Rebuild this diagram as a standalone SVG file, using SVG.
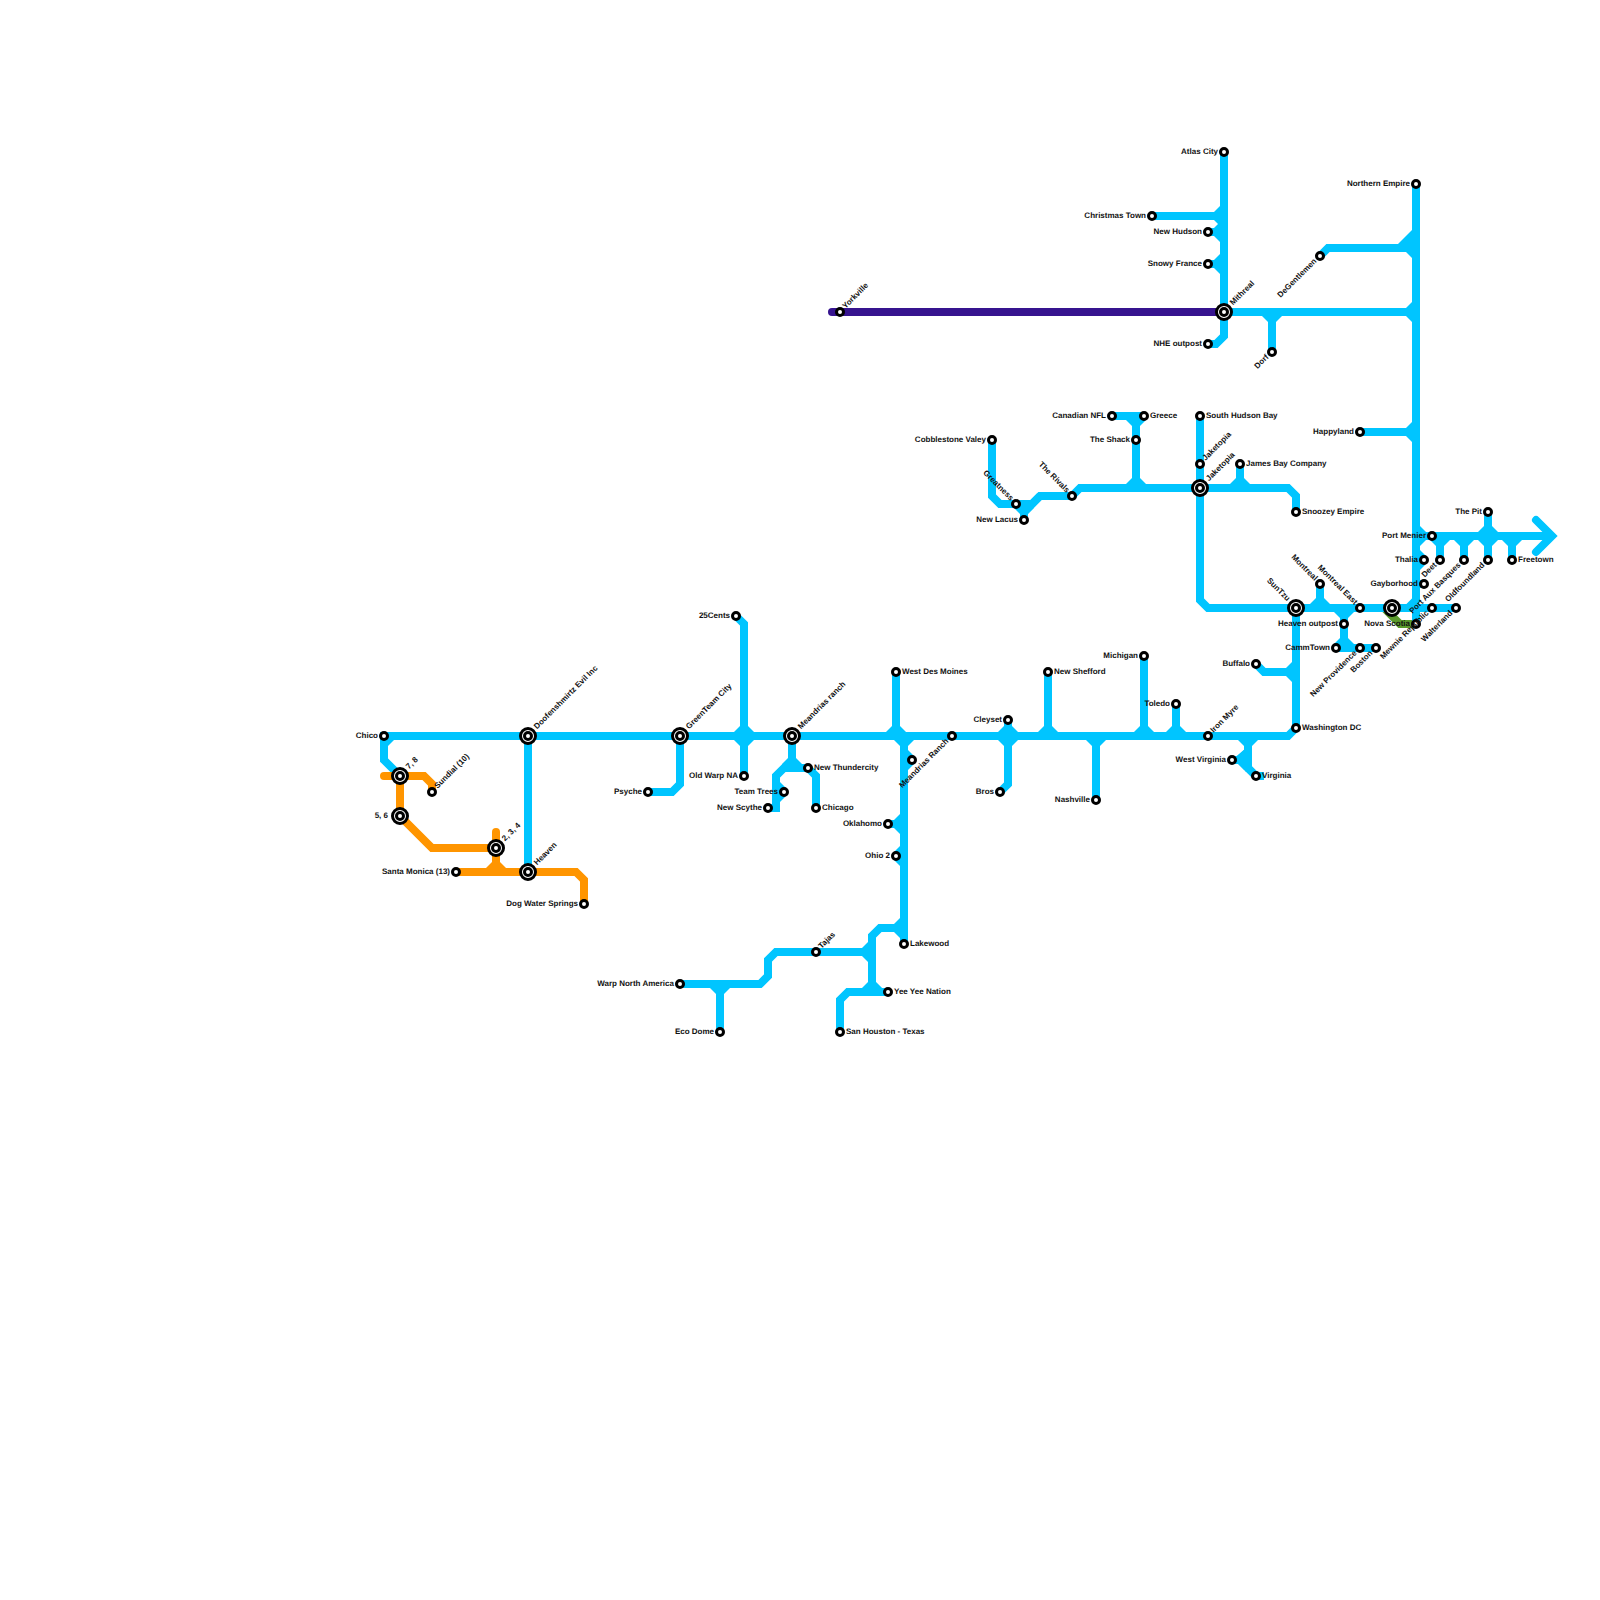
<svg xmlns="http://www.w3.org/2000/svg" width="1600" height="1600" viewBox="0 0 1600 1600">
<style>
.c path{fill:none;stroke-width:8;stroke-linejoin:miter}
.b path{stroke:#00c5ff}
.o path{stroke:#ff9500}
.p path{stroke:#36148f}
.g path{stroke:#5b9a2c}
.rc{stroke-linecap:round}
.b use,.b polygon{fill:#00c5ff}
.o use{fill:#ff9500}
.s{fill:#fff;stroke:#000;stroke-width:3}
text{font-family:"Liberation Sans",Arial,sans-serif;font-size:8px;font-weight:700;fill:#111;text-rendering:geometricPrecision}
.e{text-anchor:end}
</style>
<defs>
<polygon id="j" points="-10,-4 -4,-10 4,-10 10,-4 10,0 -10,0"/>
<circle id="st" class="s" r="3.5"/>
<g id="bg"><circle class="s" r="7.5"/><circle class="s" r="3.5"/></g>
</defs>
<g id="connectors" class="c">
<g class="g"><path d="M1384 608L1400 624H1416"/></g>
<g class="b">
<path d="M400 776L384 760V736H1288L1296 728"/>
<path d="M528 736V872"/>
<path d="M680 736V784L672 792H648"/>
<path d="M736 616L744 624V776"/>
<path d="M792 736V768"/>
<path d="M808 768H784L776 776V808H768"/>
<path d="M776 792H784"/>
<path d="M808 768L816 776V808"/>
<path d="M896 672V736"/>
<path d="M904 736V944"/>
<path d="M904 760H912M904 824H888M904 856H896"/>
<path d="M904 928H880L872 936V984L880 992H888"/>
<path d="M888 992H848L840 1000V1032"/>
<path d="M872 952H776L768 960V976L760 984H680"/>
<path d="M720 984V1032"/>
<path d="M1008 720V784L1000 792"/>
<path d="M1048 672V736M1096 736V800M1144 656V736M1176 704V736"/>
<path d="M1248 736V768L1256 776H1264"/>
<path d="M1232 760H1240L1256 776"/>
<path d="M1232 760H1248"/>
<path d="M1256 664L1264 672H1296"/>
<path d="M1296 608V728"/>
<path d="M1112 416H1144M1136 416V488"/>
<path d="M992 440V496L1000 504H1032L1040 496H1072L1080 488H1288L1296 496V512"/>
<path d="M1040 496L1024 512V520"/>
<path d="M1200 416V600L1208 608H1456"/>
<path d="M1240 464V488"/>
<path d="M1320 584V608M1344 608V648M1336 648H1376"/>
<path d="M1416 184V600L1408 608"/>
<path d="M1416 608V624"/>
<path d="M1416 536H1552M1416 584H1424M1416 560H1424"/>
<path d="M1536 520L1552 536L1536 552" class="rc"/>
<path d="M1440 536V560M1464 536V560M1488 512V560M1512 536V560"/>
<path d="M1224 152V336L1216 344H1208"/>
<path d="M1152 216H1224M1208 232H1224M1208 264H1224"/>
<path d="M1224 312H1416M1272 312V352"/>
<path d="M1320 256L1328 248H1416"/>
<path d="M1360 432H1416"/>
<polygon points="388,740 394,740 388,746"/>
<polygon points="1398,244 1412,230 1412,250"/>
<polygon points="1232,760 1246,748 1246,772 1240,764"/>
<use href="#j" transform="translate(744 736)"/><use href="#j" transform="translate(744 736) rotate(180)"/>
<use href="#j" transform="translate(896 736)"/><use href="#j" transform="translate(904 736) rotate(180)"/>
<use href="#j" transform="translate(1008 736)"/><use href="#j" transform="translate(1008 736) rotate(180)"/>
<use href="#j" transform="translate(1048 736)"/><use href="#j" transform="translate(1096 736) rotate(180)"/>
<use href="#j" transform="translate(1144 736)"/><use href="#j" transform="translate(1176 736)"/>
<use href="#j" transform="translate(1248 736) rotate(180)"/>
<use href="#j" transform="translate(1136 488)"/><use href="#j" transform="translate(1240 488)"/>
<use href="#j" transform="translate(1136 416) rotate(180)"/>
<use href="#j" transform="translate(1296 672) rotate(270)"/>
<use href="#j" transform="translate(1224 216) rotate(270)"/><use href="#j" transform="translate(1224 232) rotate(270)"/><use href="#j" transform="translate(1224 264) rotate(270)"/>
<use href="#j" transform="translate(1272 312) rotate(180)"/>
<use href="#j" transform="translate(1416 312) rotate(270)"/><use href="#j" transform="translate(1416 248) rotate(270)"/><use href="#j" transform="translate(1416 432) rotate(270)"/>
<use href="#j" transform="translate(720 984) rotate(180)"/>
<use href="#j" transform="translate(872 952) rotate(270)"/><use href="#j" transform="translate(904 928) rotate(270)"/><use href="#j" transform="translate(872 992)"/>
<use href="#j" transform="translate(904 760) rotate(90)"/><use href="#j" transform="translate(904 824) rotate(270)"/><use href="#j" transform="translate(904 856) rotate(270)"/>
<use href="#j" transform="translate(776 792) rotate(90)"/><use href="#j" transform="translate(792 768)"/>
<use href="#j" transform="translate(1248 760) rotate(270)"/>
<use href="#j" transform="translate(1024 504) rotate(180)"/>
<use href="#j" transform="translate(1320 608)"/>
<use href="#j" transform="translate(1344 608) rotate(180)"/><use href="#j" transform="translate(1344 648)"/>
<use href="#j" transform="translate(1416 536) rotate(90)"/><use href="#j" transform="translate(1416 560) rotate(90)"/>
<use href="#j" transform="translate(1440 536) rotate(180)"/><use href="#j" transform="translate(1464 536) rotate(180)"/>
<use href="#j" transform="translate(1488 536)"/><use href="#j" transform="translate(1488 536) rotate(180)"/>
<use href="#j" transform="translate(1512 536) rotate(180)"/>
</g>
<g class="p"><path class="rc" d="M832 312H1224"/></g>
<g class="o">
<path class="rc" d="M384 776H424L432 784V792"/>
<path d="M400 776V816L432 848H496"/>
<path class="rc" d="M496 832V872"/>
<path d="M456 872H576L584 880V904"/>
<use href="#j" transform="translate(496 872)"/>
</g>
</g>
<g id="nodes">
<g id="chico"><use href="#st" x="384" y="736"/><text class="e" x="378" y="737.8">Chico</text></g>
<g id="n78"><use href="#bg" x="400" y="776"/><text transform="translate(400 776) rotate(-45)" x="11" y="1.8">7, 8</text></g>
<g id="n56"><use href="#bg" x="400" y="816"/><text class="e" x="388" y="817.8">5, 6</text></g>
<g id="sundial"><use href="#st" x="432" y="792"/><text transform="translate(432 792) rotate(-45)" x="6" y="1.8">Sundial (10)</text></g>
<g id="n234"><use href="#bg" x="496" y="848"/><text transform="translate(496 848) rotate(-45)" x="11" y="1.8">2, 3, 4</text></g>
<g id="heaven"><use href="#bg" x="528" y="872"/><text transform="translate(528 872) rotate(-45)" x="11" y="1.8">Heaven</text></g>
<g id="santa-monica"><use href="#st" x="456" y="872"/><text class="e" x="450" y="873.8">Santa Monica (13)</text></g>
<g id="dog-water"><use href="#st" x="584" y="904"/><text class="e" x="578" y="905.8">Dog Water Springs</text></g>
<g id="doofenshmirtz"><use href="#bg" x="528" y="736"/><text transform="translate(528 736) rotate(-45)" x="11" y="1.8">Doofenshmirtz Evil Inc</text></g>
<g id="greenteam"><use href="#bg" x="680" y="736"/><text transform="translate(680 736) rotate(-45)" x="11" y="1.8">GreenTeam City</text></g>
<g id="psyche"><use href="#st" x="648" y="792"/><text class="e" x="642" y="793.8">Psyche</text></g>
<g id="cents"><use href="#st" x="736" y="616"/><text class="e" x="730" y="617.8">25Cents</text></g>
<g id="old-warp"><use href="#st" x="744" y="776"/><text class="e" x="738" y="777.8">Old Warp NA</text></g>
<g id="meandrias-r"><use href="#bg" x="792" y="736"/><text transform="translate(792 736) rotate(-45)" x="11" y="1.8">Meandrias ranch</text></g>
<g id="new-thundercity"><use href="#st" x="808" y="768"/><text x="814" y="769.8">New Thundercity</text></g>
<g id="team-trees"><use href="#st" x="784" y="792"/><text class="e" x="778" y="793.8">Team Trees</text></g>
<g id="new-scythe"><use href="#st" x="768" y="808"/><text class="e" x="762" y="809.8">New Scythe</text></g>
<g id="chicago"><use href="#st" x="816" y="808"/><text x="822" y="809.8">Chicago</text></g>
<g id="west-des-moines"><use href="#st" x="896" y="672"/><text x="902" y="673.8">West Des Moines</text></g>
<g id="meandrias-ranch"><use href="#st" x="952" y="736"/><text class="e" transform="translate(952 736) rotate(-45)" x="-6" y="1.8">Meandrias Ranch</text></g>
<g id="unnamed"><use href="#st" x="912" y="760"/></g>
<g id="oklahomo"><use href="#st" x="888" y="824"/><text class="e" x="882" y="825.8">Oklahomo</text></g>
<g id="ohio2"><use href="#st" x="896" y="856"/><text class="e" x="890" y="857.8">Ohio 2</text></g>
<g id="lakewood"><use href="#st" x="904" y="944"/><text x="910" y="945.8">Lakewood</text></g>
<g id="yee-yee"><use href="#st" x="888" y="992"/><text x="894" y="993.8">Yee Yee Nation</text></g>
<g id="san-houston"><use href="#st" x="840" y="1032"/><text x="846" y="1033.8">San Houston - Texas</text></g>
<g id="tajas"><use href="#st" x="816" y="952"/><text transform="translate(816 952) rotate(-45)" x="6" y="1.8">Tajas</text></g>
<g id="warp-north"><use href="#st" x="680" y="984"/><text class="e" x="674" y="985.8">Warp North America</text></g>
<g id="eco-dome"><use href="#st" x="720" y="1032"/><text class="e" x="714" y="1033.8">Eco Dome</text></g>
<g id="cleyset"><use href="#st" x="1008" y="720"/><text class="e" x="1002" y="721.8">Cleyset</text></g>
<g id="bros"><use href="#st" x="1000" y="792"/><text class="e" x="994" y="793.8">Bros</text></g>
<g id="new-shefford"><use href="#st" x="1048" y="672"/><text x="1054" y="673.8">New Shefford</text></g>
<g id="nashville"><use href="#st" x="1096" y="800"/><text class="e" x="1090" y="801.8">Nashville</text></g>
<g id="michigan"><use href="#st" x="1144" y="656"/><text class="e" x="1138" y="657.8">Michigan</text></g>
<g id="toledo"><use href="#st" x="1176" y="704"/><text class="e" x="1170" y="705.8">Toledo</text></g>
<g id="iron-myre"><use href="#st" x="1208" y="736"/><text transform="translate(1208 736) rotate(-45)" x="6" y="1.8">Iron Myre</text></g>
<g id="west-virginia"><use href="#st" x="1232" y="760"/><text class="e" x="1226" y="761.8">West Virginia</text></g>
<g id="virginia"><use href="#st" x="1256" y="776"/><text x="1262" y="777.8">Virginia</text></g>
<g id="washington"><use href="#st" x="1296" y="728"/><text x="1302" y="729.8">Washington DC</text></g>
<g id="buffalo"><use href="#st" x="1256" y="664"/><text class="e" x="1250" y="665.8">Buffalo</text></g>
<g id="cobblestone"><use href="#st" x="992" y="440"/><text class="e" x="986" y="441.8">Cobblestone Valey</text></g>
<g id="greatness"><use href="#st" x="1016" y="504"/><text class="e" transform="translate(1016 504) rotate(45)" x="-6" y="1.8">Greatness</text></g>
<g id="new-lacus"><use href="#st" x="1024" y="520"/><text class="e" x="1018" y="521.8">New Lacus</text></g>
<g id="rivals"><use href="#st" x="1072" y="496"/><text class="e" transform="translate(1072 496) rotate(45)" x="-6" y="1.8">The Rivals</text></g>
<g id="canadian-nfl"><use href="#st" x="1112" y="416"/><text class="e" x="1106" y="417.8">Canadian NFL</text></g>
<g id="greece"><use href="#st" x="1144" y="416"/><text x="1150" y="417.8">Greece</text></g>
<g id="shack"><use href="#st" x="1136" y="440"/><text class="e" x="1130" y="441.8">The Shack</text></g>
<g id="south-hudson"><use href="#st" x="1200" y="416"/><text x="1206" y="417.8">South Hudson Bay</text></g>
<g id="jaketopia-s"><use href="#st" x="1200" y="464"/><text transform="translate(1200 464) rotate(-45)" x="6" y="1.8">Jaketopia</text></g>
<g id="jaketopia"><use href="#bg" x="1200" y="488"/><text transform="translate(1200 488) rotate(-45)" x="11" y="1.8">Jaketopia</text></g>
<g id="james-bay"><use href="#st" x="1240" y="464"/><text x="1246" y="465.8">James Bay Company</text></g>
<g id="snoozey"><use href="#st" x="1296" y="512"/><text x="1302" y="513.8">Snoozey Empire</text></g>
<g id="suntzu"><use href="#bg" x="1296" y="608"/><text class="e" transform="translate(1296 608) rotate(45)" x="-11" y="1.8">SunTzu</text></g>
<g id="montreal"><use href="#st" x="1320" y="584"/><text class="e" transform="translate(1320 584) rotate(45)" x="-6" y="1.8">Montreal</text></g>
<g id="montreal-east"><use href="#st" x="1360" y="608"/><text class="e" transform="translate(1360 608) rotate(45)" x="-6" y="1.8">Montreal East</text></g>
<g id="heaven-outpost"><use href="#st" x="1344" y="624"/><text class="e" x="1338" y="625.8">Heaven outpost</text></g>
<g id="cammtown"><use href="#st" x="1336" y="648"/><text class="e" x="1330" y="649.8">CammTown</text></g>
<g id="new-providence"><use href="#st" x="1360" y="648"/><text class="e" transform="translate(1360 648) rotate(-45)" x="-6" y="1.8">New Providence</text></g>
<g id="boston"><use href="#st" x="1376" y="648"/><text class="e" transform="translate(1376 648) rotate(-45)" x="-6" y="1.8">Boston</text></g>
<g id="big-1392"><use href="#bg" x="1392" y="608"/></g>
<g id="nova-scotia"><use href="#st" x="1416" y="624"/><text class="e" x="1410" y="625.8">Nova Scotia</text></g>
<g id="mewnie"><use href="#st" x="1432" y="608"/><text class="e" transform="translate(1432 608) rotate(-45)" x="-6" y="1.8">Mewnie Republic</text></g>
<g id="walterland"><use href="#st" x="1456" y="608"/><text class="e" transform="translate(1456 608) rotate(-45)" x="-6" y="1.8">Walterland</text></g>
<g id="gayborhood"><use href="#st" x="1424" y="584"/><text class="e" x="1418" y="585.8">Gayborhood</text></g>
<g id="thalia"><use href="#st" x="1424" y="560"/><text class="e" x="1418" y="561.8">Thalia</text></g>
<g id="port-menier"><use href="#st" x="1432" y="536"/><text class="e" x="1426" y="537.8">Port Menier</text></g>
<g id="deet"><use href="#st" x="1440" y="560"/><text class="e" transform="translate(1440 560) rotate(-45)" x="-6" y="1.8">Deet</text></g>
<g id="port-aux"><use href="#st" x="1464" y="560"/><text class="e" transform="translate(1464 560) rotate(-45)" x="-6" y="1.8">Port Aux Basques</text></g>
<g id="oldfoundland"><use href="#st" x="1488" y="560"/><text class="e" transform="translate(1488 560) rotate(-45)" x="-6" y="1.8">Oldfoundland</text></g>
<g id="pit"><use href="#st" x="1488" y="512"/><text class="e" x="1482" y="513.8">The Pit</text></g>
<g id="freetown"><use href="#st" x="1512" y="560"/><text x="1518" y="561.8">Freetown</text></g>
<g id="atlas"><use href="#st" x="1224" y="152"/><text class="e" x="1218" y="153.8">Atlas City</text></g>
<g id="christmas"><use href="#st" x="1152" y="216"/><text class="e" x="1146" y="217.8">Christmas Town</text></g>
<g id="new-hudson"><use href="#st" x="1208" y="232"/><text class="e" x="1202" y="233.8">New Hudson</text></g>
<g id="snowy"><use href="#st" x="1208" y="264"/><text class="e" x="1202" y="265.8">Snowy France</text></g>
<g id="mithreal"><use href="#bg" x="1224" y="312"/><text transform="translate(1224 312) rotate(-45)" x="11" y="1.8">Mithreal</text></g>
<g id="nhe"><use href="#st" x="1208" y="344"/><text class="e" x="1202" y="345.8">NHE outpost</text></g>
<g id="dorf"><use href="#st" x="1272" y="352"/><text class="e" transform="translate(1272 352) rotate(-45)" x="-6" y="1.8">Dorf</text></g>
<g id="degentlemen"><use href="#st" x="1320" y="256"/><text class="e" transform="translate(1320 256) rotate(-45)" x="-6" y="1.8">DeGentlemen</text></g>
<g id="northern"><use href="#st" x="1416" y="184"/><text class="e" x="1410" y="185.8">Northern Empire</text></g>
<g id="happyland"><use href="#st" x="1360" y="432"/><text class="e" x="1354" y="433.8">Happyland</text></g>
<g id="yorkville"><use href="#st" x="840" y="312"/><text transform="translate(840 312) rotate(-45)" x="6" y="1.8">Yorkville</text></g>
</g>
</svg>
